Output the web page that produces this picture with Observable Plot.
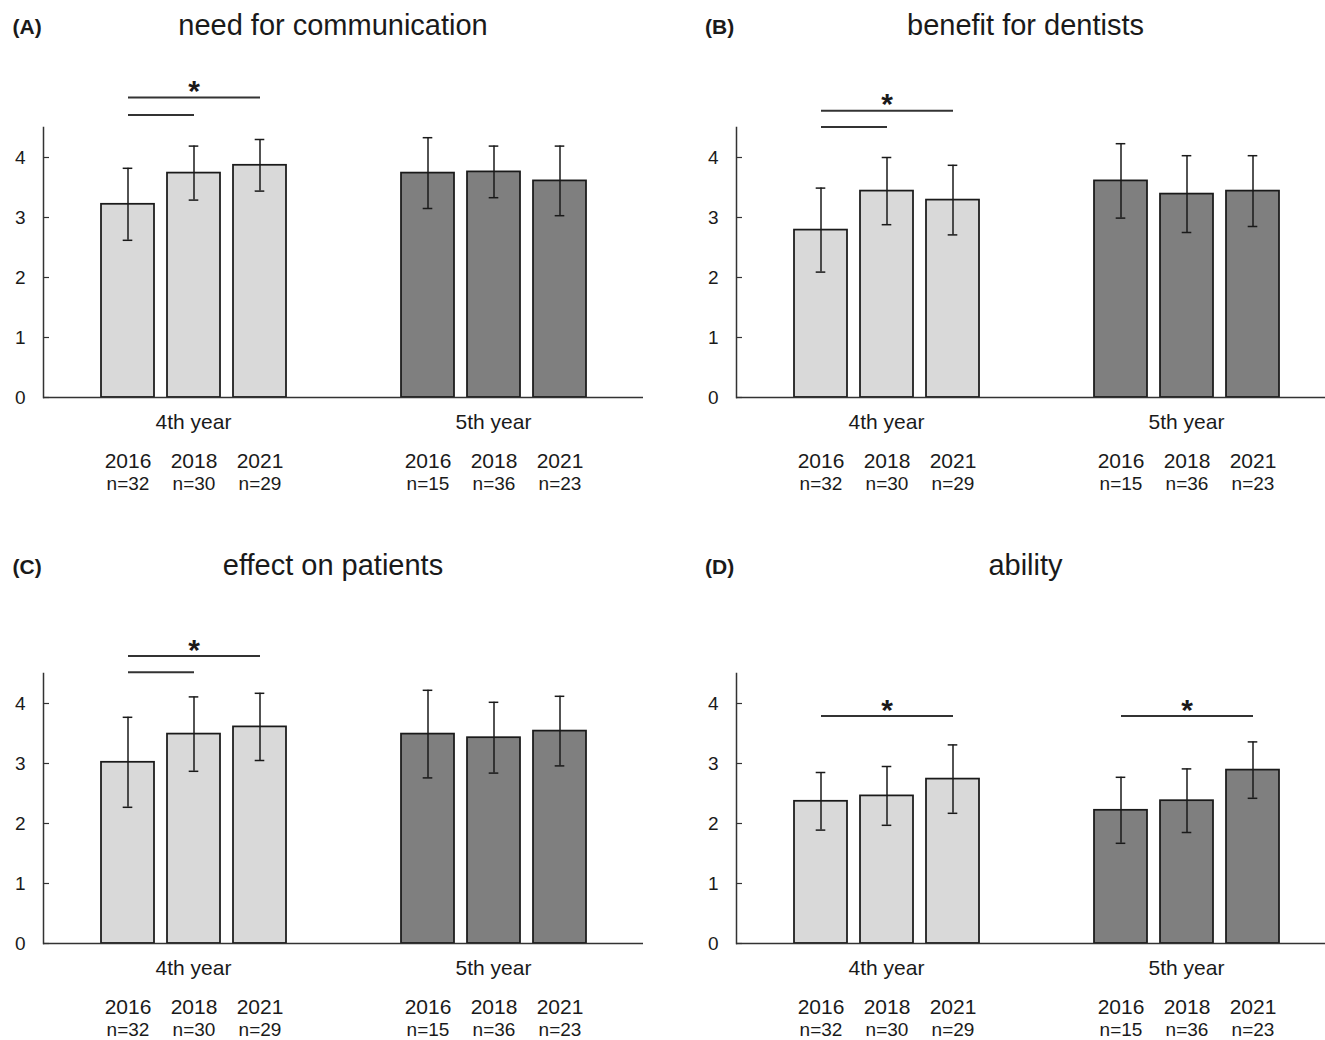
<!DOCTYPE html>
<html><head><meta charset="utf-8">
<script src="https://cdn.jsdelivr.net/npm/d3@7"></script>
<script src="https://cdn.jsdelivr.net/npm/@observablehq/plot@0.6"></script>
<style>
html,body{margin:0;padding:0;background:#fff;overflow:hidden;width:1325px;height:1040px}
body{position:relative;font-family:"Liberation Sans",Arial,sans-serif;color:#1a1a1a}
.letter{position:absolute;font-weight:bold;font-size:21px;line-height:1;white-space:nowrap}
.title{position:absolute;font-size:29px;line-height:1;text-align:center;width:666px;white-space:nowrap}
.panel{position:absolute;width:692px;overflow:visible}
.panel svg{max-width:none!important}
</style></head><body>
<script>
const groups = ["4th year", "5th year"];
const years = ["2016", "2018", "2021"];
const n4th = [32, 30, 29];
const n5th = [15, 36, 23];
const panelLetters = ["(A)", "(B)", "(C)", "(D)"];
const panelTitles = ["need for communication", "benefit for dentists", "effect on patients", "ability"];

// means and SD (order 2016, 2018, 2021)
const meanA4 = [3.22, 3.74, 3.87], sdA4 = [0.60, 0.45, 0.43];
const meanA5 = [3.74, 3.76, 3.61], sdA5 = [0.59, 0.43, 0.58];
const meanB4 = [2.79, 3.44, 3.29], sdB4 = [0.70, 0.56, 0.58];
const meanB5 = [3.61, 3.39, 3.44], sdB5 = [0.62, 0.64, 0.59];
const meanC4 = [3.02, 3.49, 3.61], sdC4 = [0.75, 0.62, 0.56];
const meanC5 = [3.49, 3.43, 3.54], sdC5 = [0.73, 0.59, 0.58];
const meanD4 = [2.37, 2.46, 2.74], sdD4 = [0.48, 0.49, 0.57];
const meanD5 = [2.22, 2.38, 2.89], sdD5 = [0.55, 0.53, 0.47];

// significance brackets: [group, from, to, level]; "*" over 2016–2021 bracket
const sigA = [["4th year", "2016", "2021", 5.0], ["4th year", "2016", "2018", 4.71]];
const sigB = [["4th year", "2016", "2021", 4.78], ["4th year", "2016", "2018", 4.51]];
const sigC = [["4th year", "2016", "2021", 4.79], ["4th year", "2016", "2018", 4.52]];
const sigD = [["4th year", "2016", "2021", 3.79], ["5th year", "2016", "2021", 3.79]];

const panelData = [
  [meanA4, sdA4, meanA5, sdA5, sigA],
  [meanB4, sdB4, meanB5, sdB5, sigB],
  [meanC4, sdC4, meanC5, sdC5, sigC],
  [meanD4, sdD4, meanD5, sdD5, sigD]
];

const FONT = '"Liberation Sans", Arial, sans-serif';
const INK = "#1a1a1a";

function makePanel(m4, s4, m5, s5, sig) {
  const rows = [];
  groups.forEach((g, gi) => {
    const m = gi ? m5 : m4, s = gi ? s5 : s4, n = gi ? n5th : n4th;
    years.forEach((y, i) => rows.push({group: g, year: y, mean: m[i], sd: s[i], n: n[i]}));
  });
  const brackets = sig.map(([group, from, to, level]) => ({group, from, to, level}));
  const stars = brackets.filter(d => d.from === years[0] && d.to === years[2]).map(d => ({...d, mid: years[1]}));
  return Plot.plot({
    width: 692, height: 127 + 270 + 105,
    marginTop: 127, marginBottom: 105, marginLeft: 43, marginRight: 49,
    style: {fontFamily: FONT, fontSize: "19px", color: INK, background: "transparent", overflow: "visible", maxWidth: "none"},
    fx: {domain: groups, padding: 0, axis: null},
    x: {domain: years, paddingInner: 0.2, paddingOuter: 0.85, axis: null},
    y: {domain: [0, 4.5], axis: null, label: null},
    color: {domain: groups, range: ["#d9d9d9", "#7f7f7f"]},
    marks: [
      Plot.barY(rows, {fx: "group", x: "year", y: "mean", fill: "group", stroke: INK, strokeWidth: 1.75}),
      Plot.ruleX(rows, {fx: "group", x: "year", y1: d => d.mean - d.sd, y2: d => d.mean + d.sd, stroke: INK, strokeWidth: 1.5}),
      Plot.tickY(rows, {fx: "group", x: "year", y: d => d.mean + d.sd, insetLeft: 21.7, insetRight: 21.7, stroke: INK, strokeWidth: 1.5}),
      Plot.tickY(rows, {fx: "group", x: "year", y: d => d.mean - d.sd, insetLeft: 21.7, insetRight: 21.7, stroke: INK, strokeWidth: 1.5}),
      Plot.ruleY([0], {stroke: "#333", strokeWidth: 1.5}),
      Plot.frame({anchor: "left", facetAnchor: "left", stroke: "#333", strokeWidth: 1.5}),
      Plot.axisY({ticks: 5, tickSize: -6, tickPadding: 24, fontSize: 19, label: null, stroke: "#333", strokeWidth: 1.2}),
      Plot.link(brackets, {fx: "group", x1: "from", x2: "to", y1: "level", y2: "level", stroke: "#333", strokeWidth: 2}),
      Plot.text(stars, {fx: "group", x: "mid", y: "level", text: () => "*", fontSize: 30, fontWeight: "bold", dy: -6}),
      Plot.text(groups, {fx: d => d, text: d => d, frameAnchor: "bottom", lineAnchor: "middle", dy: 24.5, fontSize: 21}),
      Plot.text(rows, {fx: "group", x: "year", text: "year", frameAnchor: "bottom", lineAnchor: "middle", dy: 63.5, fontSize: 21}),
      Plot.text(rows, {fx: "group", x: "year", text: d => `n=${d.n}`, frameAnchor: "bottom", lineAnchor: "middle", dy: 86.5, fontSize: 19})
    ]
  });
}

panelData.forEach((p, i) => {
  const col = i % 2, row = Math.floor(i / 2);
  const holder = document.createElement("div");
  holder.className = "panel";
  holder.style.left = (col * 692.5) + "px";
  holder.style.top = (row * 546) + "px";
  holder.appendChild(makePanel(...p));
  document.body.appendChild(holder);

  const letter = document.createElement("div");
  letter.className = "letter";
  letter.textContent = panelLetters[i];
  letter.style.left = (col * 692.5 + 12.5) + "px";
  letter.style.top = (row ? 556.2 : 16.2) + "px";
  document.body.appendChild(letter);

  const title = document.createElement("div");
  title.className = "title";
  title.textContent = panelTitles[i];
  title.style.left = (col * 692.5) + "px";
  title.style.top = (row ? 550.5 : 10.5) + "px";
  document.body.appendChild(title);
});
</script>
</body></html>
